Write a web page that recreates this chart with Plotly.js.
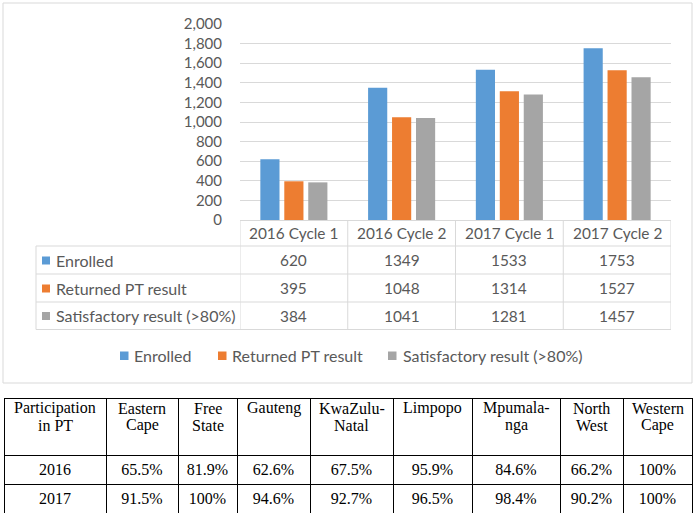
<!DOCTYPE html>
<html>
<head>
<meta charset="utf-8">
<script src="https://cdn.plot.ly/plotly-3.0.1.min.js"></script>
<style>html,body{margin:0;padding:0;background:#fff;}#chart{width:700px;height:516px;}</style>
</head>
<body>
<div id="chart"></div>
<script>
// ---- Data ----
const categories = ['2016 Cycle 1', '2016 Cycle 2', '2017 Cycle 1', '2017 Cycle 2'];
const enrolled = [620, 1349, 1533, 1753];
const returnedPT = [395, 1048, 1314, 1527];
const satisfactory = [384, 1041, 1281, 1457];
const seriesNames = ['Enrolled', 'Returned PT result', 'Satisfactory result (>80%)'];
const seriesColors = ['#5b9bd5', '#ed7d31', '#a5a5a5'];

const tableCorner = 'Participation<br>in PT';
const provinces = ['Eastern<br>Cape', 'Free<br>State', 'Gauteng', 'KwaZulu-<br>Natal', 'Limpopo', 'Mpumala-<br>nga', 'North<br>West', 'Western<br>Cape'];
const tableYears = ['2016', '2017'];
const participation2016 = ['65.5%', '81.9%', '62.6%', '67.5%', '95.9%', '84.6%', '66.2%', '100%'];
const participation2017 = ['91.5%', '100%', '94.6%', '92.7%', '96.5%', '98.4%', '90.2%', '100%'];

// ---- Layout helpers (pixel -> paper) ----
const W = 700, H = 516;
const px = x => x / W;
const py = y => 1 - y / H;
const grey = '#595959';
const lineCol = '#d9d9d9';
const chartFont = 'Lato, "Open Sans", sans-serif';
const serifFont = '"Liberation Serif", "Times New Roman", serif';

const allSeries = [enrolled, returnedPT, satisfactory];

const traces = allSeries.map((vals, i) => ({
  type: 'bar', name: seriesNames[i], x: categories, y: vals,
  marker: {color: seriesColors[i]}, hoverinfo: 'x+y+name', showlegend: false
}));

// Bottom table
const headers = [tableCorner].concat(provinces);
const colWidths = [102, 72, 59, 73, 83, 79, 88, 63, 69];
const tableX0 = 4, tableX1 = 692, tableTop = 398, headH = 57, rowH = 29;
const cellCols = headers.map((h, j) => j === 0 ? tableYears : [participation2016[j - 1], participation2017[j - 1]]);
traces.push({
  type: 'table',
  domain: {x: [px(tableX0), px(tableX1)], y: [py(tableTop + headH + 2 * rowH + 1), py(tableTop)]},
  columnwidth: colWidths,
  header: {
    values: headers.map(() => ''), align: 'center', height: headH,
    line: {color: '#000', width: 1}, fill: {color: '#fff'},
    font: {family: serifFont, size: 16, color: '#000'}
  },
  cells: {
    values: cellCols, align: 'center', height: rowH,
    line: {color: '#000', width: 1}, fill: {color: '#fff'},
    font: {family: serifFont, size: 16, color: '#000'}
  }
});

const annotations = [];
const shapes = [];

// Header text of bottom table (centred lines)
const totalW = colWidths.reduce((a, b) => a + b, 0);
let acc = tableX0;
headers.forEach((h, j) => {
  const w = colWidths[j] / totalW * (tableX1 - tableX0);
  const cx = acc + w / 2;
  acc += w;
  h.split('<br>').forEach((line, k) => annotations.push({
    x: px(cx), xref: 'paper', y: py(408 + k * 17), yref: 'paper', text: line, showarrow: false,
    xanchor: 'center', yanchor: 'middle', font: {family: serifFont, size: 16, color: '#000'}
  }));
});

// Data table under the bar chart
const headerY = 233;
const rowCenters = [260, 288, 315.5];

categories.forEach(c => annotations.push({
  x: c, xref: 'x', y: py(headerY), yref: 'paper', text: c, showarrow: false,
  xanchor: 'center', yanchor: 'middle', font: {family: chartFont, size: 15.4, color: grey}
}));
allSeries.forEach((vals, i) => {
  vals.forEach((v, j) => annotations.push({
    x: categories[j], xref: 'x', y: py(rowCenters[i]), yref: 'paper', text: String(v), showarrow: false,
    xanchor: 'center', yanchor: 'middle', font: {family: chartFont, size: 15.4, color: grey}
  }));
  annotations.push({
    x: px(54), xref: 'paper', y: py(rowCenters[i]), yref: 'paper', text: seriesNames[i], showarrow: false,
    xanchor: 'left', yanchor: 'middle', font: {family: chartFont, size: 16, color: grey}
  });
  shapes.push({type: 'rect', xref: 'paper', yref: 'paper', x0: px(42), x1: px(50),
    y0: py(rowCenters[i] + 4.5), y1: py(rowCenters[i] - 3.5), line: {width: 0}, fillcolor: seriesColors[i]});
});

// Legend (custom, Excel style)
const legendY = 355;
const legendSq = [120, 218, 388];
const legendTx = [132, 230, 401];
seriesNames.forEach((n, i) => {
  shapes.push({type: 'rect', xref: 'paper', yref: 'paper', x0: px(legendSq[i]), x1: px(legendSq[i] + 8.5),
    y0: py(legendY + 5), y1: py(legendY - 3.5), line: {width: 0}, fillcolor: seriesColors[i]});
  annotations.push({
    x: px(legendTx[i]), xref: 'paper', y: py(legendY), yref: 'paper', text: n, showarrow: false,
    xanchor: 'left', yanchor: 'middle', font: {family: chartFont, size: 16, color: grey}
  });
});

// Table grid lines
const hLine = (y, x0, x1) => ({type: 'line', xref: 'paper', yref: 'paper', x0: px(x0), x1: px(x1), y0: py(y), y1: py(y), line: {color: lineCol, width: 1}});
shapes.push(hLine(246, 36, 671));
shapes.push(hLine(274, 36, 671));
shapes.push(hLine(302, 36, 671));
shapes.push(hLine(329.5, 36, 671));
shapes.push({type: 'line', xref: 'paper', yref: 'paper', x0: px(36), x1: px(36), y0: py(246), y1: py(329.5), line: {color: lineCol, width: 1}});
for (let k = 0; k <= categories.length; k++) {
  shapes.push({type: 'line', xref: 'x', yref: 'paper', x0: k - 0.5, x1: k - 0.5, y0: py(220), y1: py(329.5), line: {color: lineCol, width: 1}});
}
// Chart outer frame
shapes.push({type: 'rect', xref: 'paper', yref: 'paper', x0: px(3), x1: px(692), y0: py(383), y1: py(3), line: {color: lineCol, width: 1}, fillcolor: 'rgba(0,0,0,0)'});

const layout = {
  width: W, height: H,
  margin: {l: 0, r: 0, t: 0, b: 0, pad: 0},
  paper_bgcolor: '#fff', plot_bgcolor: '#fff',
  showlegend: false,
  barmode: 'group', bargap: 0.333, bargroupgap: 0.2,
  font: {family: chartFont, size: 15, color: grey},
  xaxis: {
    domain: [px(240), px(671)], range: [-0.5, 3.5], showticklabels: false, ticks: '',
    showgrid: false, zeroline: false, showline: true, linecolor: lineCol, linewidth: 1, fixedrange: true
  },
  yaxis: {
    domain: [py(220), py(24)], range: [0, 2000], dtick: 200, tickformat: ',',
    showgrid: true, gridcolor: lineCol, gridwidth: 1, zeroline: false, showline: false,
    ticks: 'outside', ticklen: 14, tickcolor: 'rgba(0,0,0,0)',
    tickfont: {family: chartFont, size: 15, color: grey}, fixedrange: true
  },
  annotations: annotations,
  shapes: shapes
};

Plotly.newPlot('chart', traces, layout, {displayModeBar: false, staticPlot: true});
</script>
</body>
</html>
